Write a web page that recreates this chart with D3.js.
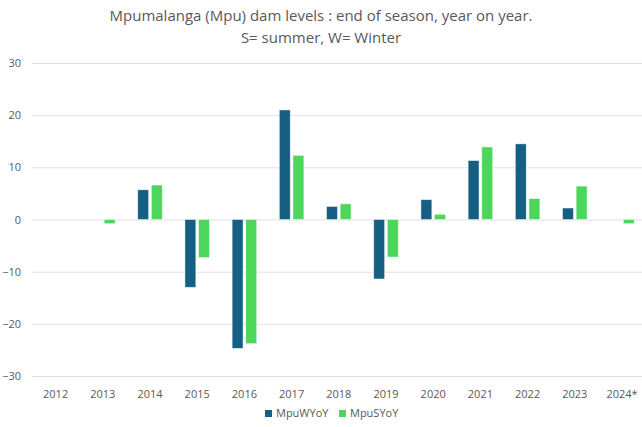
<!DOCTYPE html>
<html>
<head>
<meta charset="utf-8">
<script src="https://cdn.jsdelivr.net/npm/d3@7"></script>
<style>
  body { margin: 0; background: #fff; }
  text { font-family: "Open Sans", "Liberation Sans", sans-serif; fill: #595959; }
</style>
</head>
<body>
<svg width="642" height="427"></svg>
<script>
// chart data
var years = ['2012', '2013', '2014', '2015', '2016', '2017', '2018', '2019', '2020', '2021', '2022', '2023', '2024*'];
var winterYoY = [null, null, 5.7, -13.0, -24.7, 21.0, 2.5, -11.4, 3.8, 11.3, 14.5, 2.2, null];
var summerYoY = [null, -0.8, 6.6, -7.3, -23.8, 12.3, 3.0, -7.2, 1.0, 13.9, 4.0, 6.4, -0.8];
var seriesNames = ['MpuWYoY', 'MpuSYoY'];
var yTicks = [-30, -20, -10, 0, 10, 20, 30];

var colors = {MpuWYoY: '#156082', MpuSYoY: '#4dd65c'};

var svg = d3.select('svg');
var svgWidth = +svg.attr('width');

var plot = {l: 32, r: 645.6, t: 63, b: 376};

var x0 = d3.scaleBand().domain(years)
    .range([plot.l, plot.r])
    .paddingInner(0.48).paddingOuter(0.24);
var x1 = d3.scaleBand().domain(seriesNames)
    .range([0, x0.bandwidth()])
    .paddingInner(0.2);
var y = d3.scaleLinear().domain([-30, 30]).range([plot.b, plot.t]);

// title
var title = svg.append('text')
    .attr('text-anchor', 'middle')
    .style('font-size', '15px');
title.append('tspan').attr('x', svgWidth / 2).attr('y', 21)
    .text('Mpumalanga (Mpu) dam levels : end of season, year on year.');
title.append('tspan').attr('x', svgWidth / 2).attr('y', 43)
    .text('S= summer, W= Winter');

// y axis + gridlines
var yAxis = d3.axisLeft(y).tickValues(yTicks).tickSize(-(plot.r - plot.l)).tickPadding(11);
var yG = svg.append('g')
    .attr('transform', 'translate(' + [plot.l, 0] + ')')
    .call(yAxis);
yG.select('.domain').remove();
yG.selectAll('line').attr('stroke', '#e0e0e0').attr('stroke-width', 1);
yG.selectAll('text').style('font-size', '11px').attr('fill', '#595959');

// x labels
var xAxis = d3.axisBottom(x0).tickSize(0).tickPadding(14);
var xG = svg.append('g')
    .attr('transform', 'translate(' + [0, plot.b] + ')')
    .call(xAxis);
xG.select('.domain').remove();
xG.selectAll('text').style('font-size', '11px').attr('fill', '#595959');

// bars
var rows = years.map(function(yr, i) {
    return {year: yr, values: [
        {name: 'MpuWYoY', value: winterYoY[i]},
        {name: 'MpuSYoY', value: summerYoY[i]}
    ]};
});

var groups = svg.selectAll('.grp')
    .data(rows)
    .enter()
    .append('g')
    .attr('class', 'grp')
    .attr('transform', function(d) { return 'translate(' + [x0(d.year), 0] + ')'; });

groups.selectAll('rect')
    .data(function(d) { return d.values.filter(function(v) { return v.value !== null; }); })
    .enter()
    .append('rect')
    .attr('x', function(d) { return x1(d.name); })
    .attr('width', x1.bandwidth())
    .attr('y', function(d) { return y(Math.max(0, d.value)); })
    .attr('height', function(d) { return Math.abs(y(d.value) - y(0)); })
    .attr('fill', function(d) { return colors[d.name]; })
    .attr('stroke', '#ffffff')
    .attr('stroke-opacity', 0.6)
    .attr('stroke-width', 0.75);

// legend
var legend = svg.append('g').attr('transform', 'translate(265, 417)');
var legendX = [0, 74];
seriesNames.forEach(function(name, i) {
    var item = legend.append('g').attr('transform', 'translate(' + [legendX[i], 0] + ')');
    item.append('rect')
        .attr('x', 0).attr('y', -7)
        .attr('width', 7).attr('height', 7)
        .attr('fill', colors[name]);
    item.append('text')
        .attr('x', 11).attr('y', 0)
        .style('font-size', '11px')
        .text(name);
});
</script>
</body>
</html>
